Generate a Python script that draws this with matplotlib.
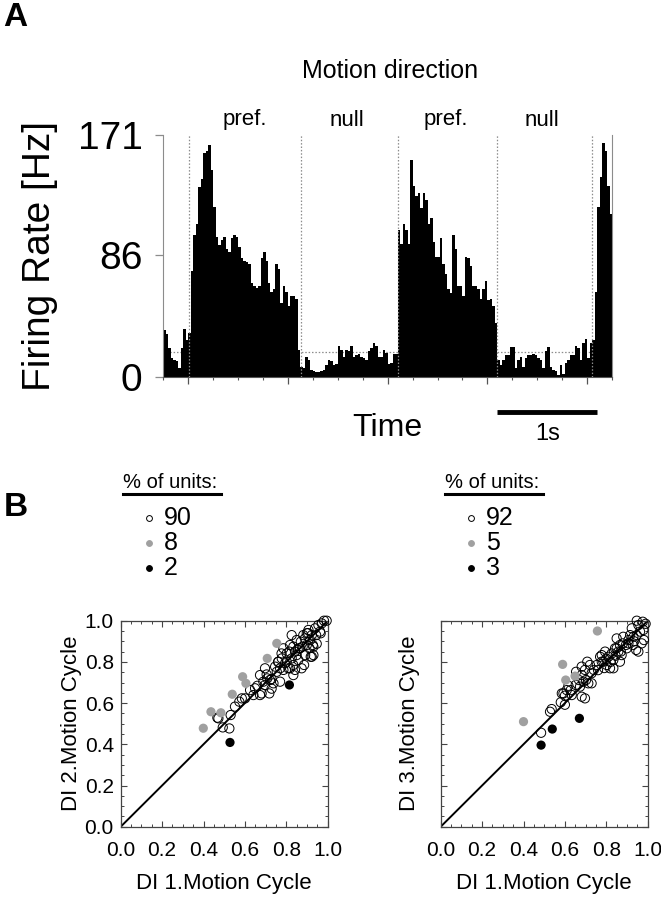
import numpy as np
import matplotlib
matplotlib.use("Agg")
import matplotlib.pyplot as plt
import matplotlib.transforms as mtransforms
from matplotlib.ticker import MultipleLocator

plt.rcParams['font.family'] = ['Liberation Sans', 'DejaVu Sans']

# ---------------- data ----------------
bin_width = 0.025
t_start = -0.25
firing_rate = [
    33, 30, 20, 13, 12, 11, 6, 20, 34, 26,
    31, 75, 100, 108, 134, 140, 158, 160, 164, 146,
    120, 99, 93, 97, 99, 90, 88, 98, 100, 99,
    92, 84, 82, 81, 80, 66, 64, 63, 64, 84,
    88, 82, 66, 60, 62, 80, 76, 52, 64, 60,
    50, 57, 57, 55, 19, 7, 6, 14, 12, 5,
    4, 3, 3, 4, 5, 8, 12, 11, 8, 9,
    22, 19, 14, 19, 18, 22, 14, 15, 16, 14,
    13, 12, 18, 20, 24, 22, 14, 14, 19, 17,
    9, 10, 16, 16, 104, 94, 108, 104, 94, 153,
    135, 128, 130, 119, 130, 125, 108, 112, 95, 85,
    85, 98, 80, 73, 62, 59, 100, 90, 64, 64,
    57, 85, 84, 78, 64, 64, 62, 55, 62, 68,
    54, 55, 50, 38, 12, 8, 12, 15, 15, 21,
    21, 6, 12, 14, 7, 13, 15, 15, 16, 15,
    13, 12, 6, 18, 21, 7, 5, 4, 1, 8,
    2, 10, 12, 15, 15, 22, 20, 12, 24, 27,
    13, 24, 26, 60, 120, 141, 165, 160, 135, 115,
]
stim_onsets = [0.011, 1.131, 2.101, 3.094, 4.053]
baseline_rate = 17.3
rate_ticks = [0, 86, 171]
direction_labels = ['pref.', 'null', 'pref.', 'null']

# scatter data, panel B left (DI 1 vs DI 2)
left_open_x = [0.472, 0.493, 0.525, 0.531, 0.552, 0.573, 0.601, 0.625, 0.641, 0.660,
               0.673, 0.681, 0.697, 0.705, 0.718, 0.729, 0.738, 0.746, 0.754, 0.762,
               0.770, 0.778, 0.786, 0.794, 0.802, 0.810, 0.818, 0.826, 0.834, 0.834,
               0.842, 0.850, 0.858, 0.866, 0.874, 0.882, 0.891, 0.899, 0.907, 0.915,
               0.923, 0.931, 0.939, 0.944, 0.955, 0.963, 0.971, 0.982, 0.995, 0.802,
               0.786, 0.770, 0.697, 0.708, 0.729, 0.673, 0.818, 0.842, 0.850, 0.863,
               0.899, 0.923, 0.931, 0.947, 0.886, 0.870, 0.912, 0.467, 0.585, 0.649,
               0.689, 0.721, 0.777, 0.826, 0.834, 0.879, 0.890, 0.918, 0.928, 0.966,
               0.855, 0.815, 0.760, 0.905]
left_open_y = [0.526, 0.482, 0.477, 0.542, 0.583, 0.607, 0.623, 0.663, 0.639, 0.684,
               0.736, 0.647, 0.688, 0.739, 0.647, 0.717, 0.696, 0.777, 0.752, 0.801,
               0.769, 0.817, 0.866, 0.793, 0.841, 0.769, 0.882, 0.817, 0.736, 0.785,
               0.850, 0.906, 0.809, 0.866, 0.769, 0.930, 0.833, 0.882, 0.955, 0.906,
               0.825, 0.874, 0.963, 0.930, 0.979, 0.947, 0.987, 1.000, 1.000, 0.801,
               0.761, 0.704, 0.769, 0.720, 0.670, 0.639, 0.769, 0.761, 0.833, 0.866,
               0.939, 0.930, 0.833, 0.888, 0.785, 0.898, 0.866, 0.529, 0.623, 0.672,
               0.704, 0.712, 0.841, 0.930, 0.874, 0.874, 0.914, 0.825, 0.882, 0.939,
               0.860, 0.850, 0.800, 0.940]
left_gray_x = [0.399, 0.436, 0.484, 0.539, 0.589, 0.605, 0.708, 0.754]
left_gray_y = [0.478, 0.558, 0.553, 0.643, 0.728, 0.696, 0.817, 0.890]
left_black_x = [0.528, 0.815]
left_black_y = [0.409, 0.688]

# scatter data, panel B right (DI 1 vs DI 3)
right_open_x = [0.528, 0.536, 0.580, 0.600, 0.609, 0.617, 0.633, 0.652, 0.668, 0.673,
                0.681, 0.697, 0.702, 0.713, 0.721, 0.729, 0.740, 0.754, 0.770, 0.778,
                0.786, 0.794, 0.802, 0.810, 0.818, 0.826, 0.834, 0.842, 0.850, 0.858,
                0.866, 0.874, 0.882, 0.895, 0.907, 0.923, 0.931, 0.944, 0.955, 0.963,
                0.976, 0.979, 0.982, 0.971, 0.947, 0.850, 0.778, 0.654, 0.681, 0.708,
                0.600, 0.628, 0.585, 0.729, 0.689, 0.834, 0.866, 0.899, 0.928, 0.947,
                0.485, 0.593, 0.681, 0.697, 0.955, 0.907, 0.820, 0.845, 0.790, 0.870,
                0.990, 0.935, 0.760, 0.800, 0.880, 0.915]
right_open_y = [0.558, 0.571, 0.604, 0.636, 0.663, 0.684, 0.639, 0.688, 0.712, 0.680,
                0.736, 0.761, 0.712, 0.696, 0.785, 0.745, 0.761, 0.785, 0.825, 0.833,
                0.801, 0.850, 0.785, 0.825, 0.769, 0.841, 0.809, 0.866, 0.914, 0.850,
                0.882, 0.833, 0.922, 0.882, 0.906, 0.963, 0.922, 0.858, 0.979, 0.947,
                0.995, 0.955, 0.906, 0.890, 1.000, 0.866, 0.801, 0.752, 0.777, 0.801,
                0.592, 0.663, 0.647, 0.696, 0.704, 0.769, 0.801, 0.866, 0.882, 0.930,
                0.456, 0.647, 0.631, 0.623, 0.850, 0.890, 0.800, 0.830, 0.770, 0.850,
                0.985, 0.900, 0.760, 0.815, 0.890, 0.930]
right_gray_x = [0.400, 0.589, 0.604, 0.649, 0.757]
right_gray_y = [0.510, 0.788, 0.712, 0.731, 0.950]
right_black_x = [0.485, 0.539, 0.670]
right_black_y = [0.396, 0.474, 0.526]

legend_left = ['90', '8', '2']
legend_right = ['92', '5', '3']

# ---------------- figure ----------------
W, H = 661, 900
fig = plt.figure(figsize=(W / 100, H / 100), dpi=100)


def fx(x):
    return x / W


def fy(y):
    return 1 - y / H


def ptext(x, y, s, **kw):
    fig.text(fx(x), fy(y), s, **kw)


GRAY = '#8c8c8c'

# ---- panel A ----
axA = fig.add_axes([fx(163.3), fy(376.7), (612 - 163.3) / W, (376.7 - 135) / H])
n = len(firing_rate)
edges = t_start + bin_width * np.arange(n + 1)
axA.axhline(baseline_rate, color=GRAY, lw=0.9, ls=(0, (1.2, 1.5)), zorder=1)
axA.stairs(firing_rate, edges, fill=True, color='black', lw=0, zorder=2)
for t in stim_onsets:
    axA.axvline(t, color=GRAY, lw=0.9, ls=(0, (1.2, 1.5)), zorder=3)
axA.set_xlim(t_start, t_start + bin_width * n)
axA.set_ylim(0, 171)
axA.set_yticks(rate_ticks)
axA.set_yticklabels([str(v) for v in rate_ticks], fontsize=28)
axA.xaxis.set_major_locator(MultipleLocator(1.0))
axA.xaxis.set_minor_locator(MultipleLocator(0.25))
axA.set_xticklabels([])
axA.tick_params(axis='x', which='major', direction='out', length=5, width=0.9, color='#555555')
axA.tick_params(axis='x', which='minor', direction='out', length=2.5, width=0.8, color='#555555')
axA.tick_params(axis='y', direction='out', length=6, width=0.9, color=GRAY, pad=9)
axA.spines['top'].set_visible(False)
axA.spines['left'].set_color(GRAY)
axA.spines['right'].set_color(GRAY)
axA.spines['bottom'].set_color('#555555')
axA.set_ylabel('Firing Rate [Hz]', fontsize=28, labelpad=14)

ptext(3, 18, 'A', fontsize=24, fontweight='bold', va='center', ha='left')
ptext(390, 71, 'Motion direction', fontsize=18, ha='center', va='center')
for xx, lab in zip([245, 347, 446, 542], direction_labels):
    ptext(xx, 120, lab, fontsize=16, ha='center', va='center')
ptext(387, 428, 'Time', fontsize=23, ha='center', va='center')
# scale bar 1 s
axA.plot([3.1, 4.1], [-25, -25], color='black', lw=3.5, clip_on=False, solid_capstyle='butt')
ptext(548, 434, '1s', fontsize=17, ha='center', va='center')

# ---- panel B ----
ptext(4, 508, 'B', fontsize=24, fontweight='bold', va='center', ha='left')


def legend(x0, labels):
    ptext(x0, 482, '% of units:', fontsize=14.5, ha='left', va='center')
    fig.add_artist(plt.Line2D([fx(x0), fx(x0 + 98)], [fy(494), fy(494)], color='black', lw=2.2))
    styles = [('white', 'black'), ('#a0a0a0', '#a0a0a0'), ('black', 'black')]
    for lab, yy, (fc, ec) in zip(labels, [518, 543, 568], styles):
        fig.add_artist(plt.Line2D([fx(x0 + 26)], [fy(yy)], marker='o', ms=4.2,
                                  mfc=fc, mec=ec, mew=0.7, ls='none'))
        ptext(x0 + 41, yy, lab, fontsize=18, ha='left', va='center')


legend(123, legend_left)
legend(445, legend_right)


def scatter_panel(left_px, ox, oy, gx, gy, bx, by, ylabel, show_ylabels):
    ax = fig.add_axes([fx(left_px), fy(826.7), 207 / W, 206 / H])
    ax.plot([0, 1], [0, 1], color='black', lw=1.4, zorder=2)
    ax.scatter(ox, oy, s=44, facecolors='none', edgecolors='black', linewidths=0.7, zorder=3, clip_on=False)
    ax.scatter(gx, gy, s=44, color='#a0a0a0', edgecolors='none', zorder=4)
    ax.scatter(bx, by, s=44, color='black', edgecolors='none', zorder=4)
    ax.set_xlim(0, 1)
    ax.set_ylim(0, 1)
    ax.xaxis.set_major_locator(MultipleLocator(0.2))
    ax.yaxis.set_major_locator(MultipleLocator(0.2))
    ax.xaxis.set_minor_locator(MultipleLocator(0.05))
    ax.yaxis.set_minor_locator(MultipleLocator(0.05))
    ax.tick_params(which='both', direction='in', top=True, right=True, color='#444444')
    ax.tick_params(which='major', length=4, width=0.8, labelsize=15)
    ax.tick_params(which='minor', length=2.5, width=0.7)
    ax.tick_params(axis='x', pad=10)
    ax.tick_params(axis='y', pad=5)
    ax.xaxis.set_major_formatter(matplotlib.ticker.FormatStrFormatter('%.1f'))
    ax.yaxis.set_major_formatter(matplotlib.ticker.FormatStrFormatter('%.1f'))
    if not show_ylabels:
        ax.set_yticklabels([])
    for s in ax.spines.values():
        s.set_color('#444444')
        s.set_linewidth(0.9)
    ax.set_xlabel('DI 1.Motion Cycle', fontsize=16, labelpad=10)
    ax.set_ylabel(ylabel, fontsize=16, labelpad=2 if show_ylabels else 10)
    return ax


scatter_panel(120.7, left_open_x, left_open_y, left_gray_x, left_gray_y,
              left_black_x, left_black_y, 'DI 2.Motion Cycle', True)
axR = scatter_panel(440.7, right_open_x, right_open_y, right_gray_x, right_gray_y,
                    right_black_x, right_black_y, 'DI 3.Motion Cycle', False)
# keep the last x tick label of the right panel inside the figure
fig.canvas.draw()
last = axR.get_xticklabels()[-1]
last.set_transform(last.get_transform() + mtransforms.ScaledTranslation(-5 / 72, 0, fig.dpi_scale_trans))

fig.savefig('out.png', dpi=100)
